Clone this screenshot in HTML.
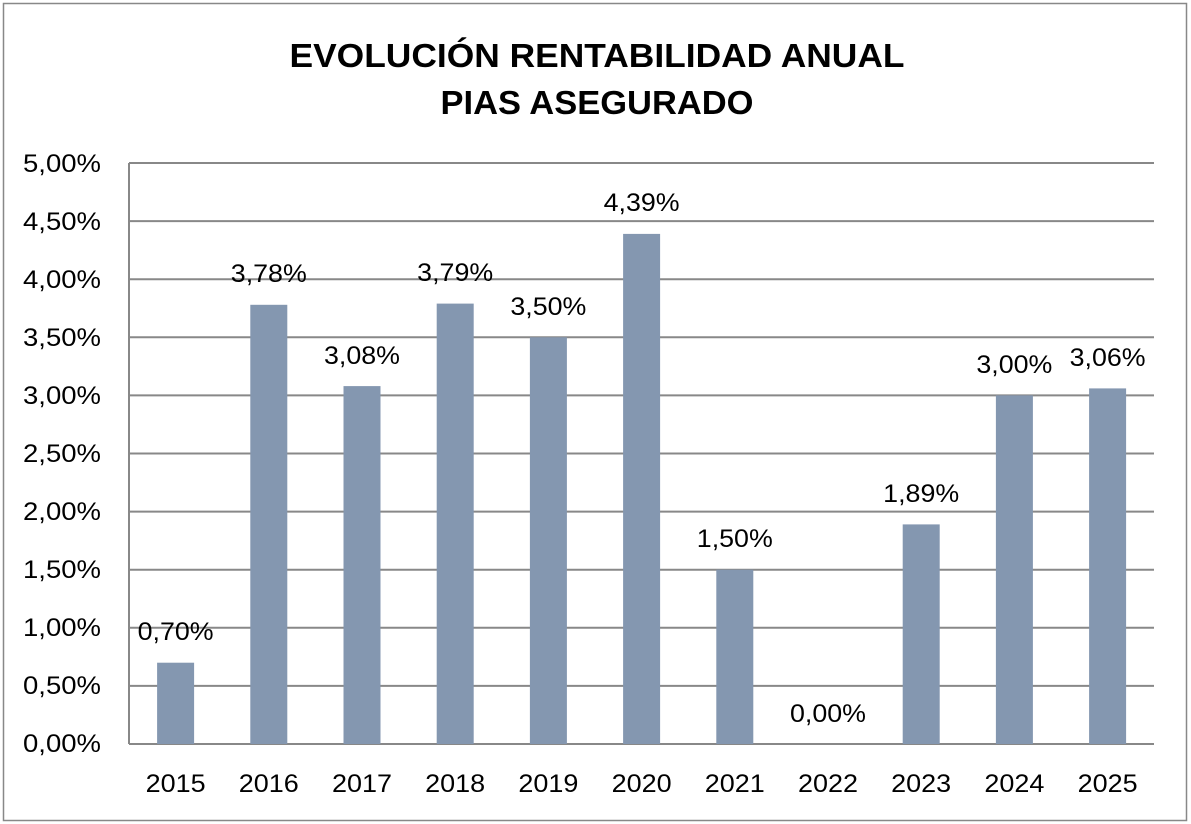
<!DOCTYPE html>
<html><head><meta charset="utf-8"><style>html,body{margin:0;padding:0;background:#fff}svg{display:block}</style></head>
<body>
<svg width="1191" height="824" xmlns="http://www.w3.org/2000/svg" font-family="Liberation Sans, sans-serif">
<rect x="3.5" y="3.5" width="1183" height="817" fill="#fff" stroke="#888" stroke-width="1.5"/>
<text x="597" y="67" font-size="33" font-weight="bold" text-anchor="middle" textLength="615" lengthAdjust="spacingAndGlyphs">EVOLUCIÓN RENTABILIDAD ANUAL</text>
<text x="597" y="114" font-size="33" font-weight="bold" text-anchor="middle" textLength="313" lengthAdjust="spacingAndGlyphs">PIAS ASEGURADO</text>
<g stroke="#888" stroke-width="2">
<line x1="129" y1="163" x2="1154" y2="163"/>
<line x1="129" y1="221.1" x2="1154" y2="221.1"/>
<line x1="129" y1="279.2" x2="1154" y2="279.2"/>
<line x1="129" y1="337.3" x2="1154" y2="337.3"/>
<line x1="129" y1="395.4" x2="1154" y2="395.4"/>
<line x1="129" y1="453.5" x2="1154" y2="453.5"/>
<line x1="129" y1="511.6" x2="1154" y2="511.6"/>
<line x1="129" y1="569.7" x2="1154" y2="569.7"/>
<line x1="129" y1="627.8" x2="1154" y2="627.8"/>
<line x1="129" y1="685.9" x2="1154" y2="685.9"/>
<line x1="129" y1="744" x2="1154" y2="744"/>
<line x1="129" y1="163" x2="129" y2="744"/>
</g>
<g font-size="25" text-anchor="end" fill="#000">
<text x="101" y="172" textLength="78" lengthAdjust="spacingAndGlyphs">5,00%</text>
<text x="101" y="230" textLength="78" lengthAdjust="spacingAndGlyphs">4,50%</text>
<text x="101" y="288" textLength="78" lengthAdjust="spacingAndGlyphs">4,00%</text>
<text x="101" y="346" textLength="78" lengthAdjust="spacingAndGlyphs">3,50%</text>
<text x="101" y="404" textLength="78" lengthAdjust="spacingAndGlyphs">3,00%</text>
<text x="101" y="462" textLength="78" lengthAdjust="spacingAndGlyphs">2,50%</text>
<text x="101" y="520" textLength="78" lengthAdjust="spacingAndGlyphs">2,00%</text>
<text x="101" y="578" textLength="78" lengthAdjust="spacingAndGlyphs">1,50%</text>
<text x="101" y="636" textLength="78" lengthAdjust="spacingAndGlyphs">1,00%</text>
<text x="101" y="694" textLength="78" lengthAdjust="spacingAndGlyphs">0,50%</text>
<text x="101" y="752" textLength="78" lengthAdjust="spacingAndGlyphs">0,00%</text>
</g>
<g fill="#8497b0">
<rect x="157.1" y="662.7" width="37" height="81.3"/>
<rect x="250.3" y="304.8" width="37" height="439.2"/>
<rect x="343.5" y="386.1" width="37" height="357.9"/>
<rect x="436.7" y="303.6" width="37" height="440.4"/>
<rect x="529.9" y="337.3" width="37" height="406.7"/>
<rect x="623.1" y="233.9" width="37" height="510.1"/>
<rect x="716.3" y="569.7" width="37" height="174.3"/>
<rect x="902.7" y="524.4" width="37" height="219.6"/>
<rect x="995.9" y="395.4" width="37" height="348.6"/>
<rect x="1089.1" y="388.4" width="37" height="355.6"/>
</g>
<g font-size="25" text-anchor="middle" fill="#000">
<text x="175.6" y="640" textLength="76" lengthAdjust="spacingAndGlyphs">0,70%</text>
<text x="268.8" y="282" textLength="76" lengthAdjust="spacingAndGlyphs">3,78%</text>
<text x="362" y="364" textLength="76" lengthAdjust="spacingAndGlyphs">3,08%</text>
<text x="455.2" y="281" textLength="76" lengthAdjust="spacingAndGlyphs">3,79%</text>
<text x="548.4" y="315" textLength="76" lengthAdjust="spacingAndGlyphs">3,50%</text>
<text x="641.6" y="211" textLength="76" lengthAdjust="spacingAndGlyphs">4,39%</text>
<text x="734.8" y="547" textLength="76" lengthAdjust="spacingAndGlyphs">1,50%</text>
<text x="828" y="722" textLength="76" lengthAdjust="spacingAndGlyphs">0,00%</text>
<text x="921.2" y="502" textLength="76" lengthAdjust="spacingAndGlyphs">1,89%</text>
<text x="1014.4" y="373" textLength="76" lengthAdjust="spacingAndGlyphs">3,00%</text>
<text x="1107.6" y="366" textLength="76" lengthAdjust="spacingAndGlyphs">3,06%</text>
</g>
<g font-size="25" text-anchor="middle" fill="#000">
<text x="175.6" y="792" textLength="60" lengthAdjust="spacingAndGlyphs">2015</text>
<text x="268.8" y="792" textLength="60" lengthAdjust="spacingAndGlyphs">2016</text>
<text x="362" y="792" textLength="60" lengthAdjust="spacingAndGlyphs">2017</text>
<text x="455.2" y="792" textLength="60" lengthAdjust="spacingAndGlyphs">2018</text>
<text x="548.4" y="792" textLength="60" lengthAdjust="spacingAndGlyphs">2019</text>
<text x="641.6" y="792" textLength="60" lengthAdjust="spacingAndGlyphs">2020</text>
<text x="734.8" y="792" textLength="60" lengthAdjust="spacingAndGlyphs">2021</text>
<text x="828" y="792" textLength="60" lengthAdjust="spacingAndGlyphs">2022</text>
<text x="921.2" y="792" textLength="60" lengthAdjust="spacingAndGlyphs">2023</text>
<text x="1014.4" y="792" textLength="60" lengthAdjust="spacingAndGlyphs">2024</text>
<text x="1107.6" y="792" textLength="60" lengthAdjust="spacingAndGlyphs">2025</text>
</g>
</svg>
</body></html>
